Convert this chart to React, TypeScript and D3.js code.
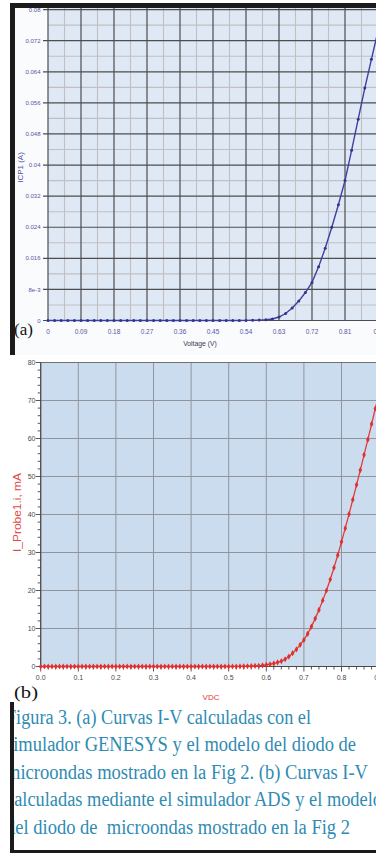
import React from 'react';
import * as d3 from 'd3';

// ---------- (a) GENESYS ----------
const voltsA = [0, 0.018, 0.036, 0.054, 0.072, 0.09, 0.108, 0.126, 0.144, 0.162, 0.18, 0.198, 0.216, 0.234, 0.252, 0.27, 0.288, 0.306, 0.324, 0.342, 0.36, 0.378, 0.396, 0.414, 0.432, 0.45, 0.468, 0.486, 0.504, 0.522, 0.54, 0.558, 0.576, 0.594, 0.612, 0.63, 0.648, 0.666, 0.684, 0.702, 0.72, 0.738, 0.756, 0.774, 0.792, 0.81, 0.828, 0.846, 0.864, 0.882, 0.9];
const currentA = [0, 0, 0, 0, 0, 0, 0, 0, 0, 0, 0, 0, 0, 0, 0, 0, 0, 0, 0, 0, 0, 0, 0, 0, 0, 0, 0, 0, 0, 0.00001, 0.00002, 0.00005, 0.0001, 0.0002, 0.0004, 0.0009, 0.0018, 0.0032, 0.005, 0.0072, 0.0098, 0.0138, 0.0186, 0.024, 0.0298, 0.036, 0.0438, 0.0518, 0.0598, 0.0672, 0.0745];
const xTicksA = [0, 0.09, 0.18, 0.27, 0.36, 0.45, 0.54, 0.63, 0.72, 0.81, 0.9];
const xTickLabelsA = ['0', '0.09', '0.18', '0.27', '0.36', '0.45', '0.54', '0.63', '0.72', '0.81', '0.9'];
const yTicksA = [0, 0.008, 0.016, 0.024, 0.032, 0.04, 0.048, 0.056, 0.064, 0.072, 0.08];
const yTickLabelsA = ['0', '8e-3', '0.016', '0.024', '0.032', '0.04', '0.048', '0.056', '0.064', '0.072', '0.08'];

// ---------- (b) ADS ----------
const voltsB = [0, 0.01, 0.02, 0.03, 0.04, 0.05, 0.06, 0.07, 0.08, 0.09, 0.1, 0.11, 0.12, 0.13, 0.14, 0.15, 0.16, 0.17, 0.18, 0.19, 0.2, 0.21, 0.22, 0.23, 0.24, 0.25, 0.26, 0.27, 0.28, 0.29, 0.3, 0.31, 0.32, 0.33, 0.34, 0.35, 0.36, 0.37, 0.38, 0.39, 0.4, 0.41, 0.42, 0.43, 0.44, 0.45, 0.46, 0.47, 0.48, 0.49, 0.5, 0.51, 0.52, 0.53, 0.54, 0.55, 0.56, 0.57, 0.58, 0.59, 0.6, 0.61, 0.62, 0.63, 0.64, 0.65, 0.66, 0.67, 0.68, 0.69, 0.7, 0.71, 0.72, 0.73, 0.74, 0.75, 0.76, 0.77, 0.78, 0.79, 0.8, 0.81, 0.82, 0.83, 0.84, 0.85, 0.86, 0.87, 0.88, 0.89, 0.9];
const currentB = [0, 0, 0, 0, 0, 0, 0, 0, 0, 0, 0, 0, 0, 0, 0, 0, 0, 0, 0, 0, 0, 0, 0, 0, 0, 0, 0, 0, 0, 0, 0, 0, 0, 0, 0, 0, 0, 0, 0, 0, 0, 0, 0, 0, 0, 0, 0, 0, 0, 0, 0, 0.01, 0.01, 0.02, 0.04, 0.06, 0.1, 0.15, 0.2, 0.3, 0.45, 0.6, 0.8, 1.1, 1.4, 1.9, 2.6, 3.5, 4.5, 5.7, 7.0, 8.6, 10.5, 12.6, 14.9, 17.4, 20.0, 22.9, 26.0, 29.3, 32.8, 36.4, 40.1, 43.9, 47.8, 51.7, 55.7, 59.7, 63.8, 67.9, 72.0];
const xTicksB = [0, 0.1, 0.2, 0.3, 0.4, 0.5, 0.6, 0.7, 0.8, 0.9];
const xTickLabelsB = ['0.0', '0.1', '0.2', '0.3', '0.4', '0.5', '0.6', '0.7', '0.8', '0.9'];
const yTicksB = [0, 10, 20, 30, 40, 50, 60, 70, 80];
const yTickLabelsB = ['0', '10', '20', '30', '40', '50', '60', '70', '80'];

const captionLines = [
  'Figura 3. (a) Curvas I-V calculadas con el',
  'simulador GENESYS y el modelo del diodo de',
  'microondas mostrado en la Fig 2. (b) Curvas I-V',
  'calculadas mediante el simulador ADS y el modelo',
  'del diodo de  microondas mostrado en la Fig 2',
];
const captionWidths = [305, 350, 362, 376, 344];

export default function App() {
  const W = 376, H = 853;
  const sans = 'Liberation Sans, Arial, sans-serif';
  const serif = 'Liberation Serif, Times New Roman, serif';

  // (a) scales
  const xA = d3.scaleLinear().domain([0, 0.9]).range([48, 378]);
  const yA = d3.scaleLinear().domain([0, 0.08]).range([320.5, 9.6]);
  const minorXA = d3.range(0, 10).map(i => xTicksA[i] + 0.045);
  const minorYA = d3.range(0, 10).map(i => yTicksA[i] + 0.004);
  const lineA = d3.line<number>().x((d, i) => xA(voltsA[i])).y(d => yA(d));

  // (b) scales
  const xB = d3.scaleLinear().domain([0, 0.9]).range([40.7, 379.1]);
  const yB = d3.scaleLinear().domain([0, 80]).range([666.5, 362.5]);
  const lineB = d3.line<number>().x((d, i) => xB(voltsB[i])).y(d => yB(d));
  const minorYB = d3.range(0, 81, 2);
  const minorXB = d3.range(0, 46).map(i => i * 0.02);
  const diamond = d3.symbol().type(d3.symbolDiamond).size(11)() as string;

  const topA = 8, botA = yA(0);
  const topB = yB(80), botB = yB(0);

  return (
    <svg width={W} height={H} viewBox={`0 0 ${W} ${H}`}
      style={{ position: 'absolute', left: 0, top: 0, background: '#ffffff' }}>
      <defs>
        <clipPath id="capClip">
          <rect x={14} y={700} width={W - 14} height={150} />
        </clipPath>
      </defs>
      {/* ===== (a) ===== */}
      <rect x={15} y={8} width={W - 15} height={347} fill="#fafbfd" />
      <rect x={48} y={topA} width={W - 48} height={botA - topA} fill="#dfe9f5" />
      {minorXA.map((v, i) => (
        <line key={'mxa' + i} x1={xA(v)} x2={xA(v)} y1={topA} y2={botA} stroke="#c2bfc2" strokeWidth={1.1} />
      ))}
      {minorYA.map((v, i) => (
        <line key={'mya' + i} x1={48} x2={W} y1={yA(v)} y2={yA(v)} stroke="#c2bfc2" strokeWidth={1.1} />
      ))}
      {xTicksA.map((v, i) => (
        <line key={'gxa' + i} x1={xA(v)} x2={xA(v)} y1={topA} y2={botA} stroke="#4d4d4f" strokeWidth={1.2} />
      ))}
      {yTicksA.map((v, i) => (
        <line key={'gya' + i} x1={43} x2={W} y1={yA(v)} y2={yA(v)} stroke="#4d4d4f" strokeWidth={1.2} />
      ))}
      {yTicksA.map((v, i) => (
        <text key={'tya' + i} x={40.5} y={yA(v)} dy="0.35em" textAnchor="end" fontSize={6} fontFamily={sans} fill="#5656a6">
          {yTickLabelsA[i]}
        </text>
      ))}
      {xTicksA.map((v, i) => (
        <text key={'txa' + i} x={xA(v)} y={333.5} textAnchor="middle" fontSize={6.5} fontFamily={sans} fill="#5656a6">
          {xTickLabelsA[i]}
        </text>
      ))}
      <text x={200} y={345.5} textAnchor="middle" fontSize={6.8} fontFamily={sans} fill="#3a3a55">Voltage (V)</text>
      <text transform="translate(22.5,167.5) rotate(-90)" textAnchor="middle" fontSize={8} fontFamily={sans} fill="#5252a6">ICP1 (A)</text>
      <path d={lineA(currentA) || ''} fill="none" stroke="#3f3f9e" strokeWidth={1.4} />
      {currentA.map((c, i) => (
        <circle key={'pa' + i} cx={xA(voltsA[i])} cy={yA(c)} r={1.5} fill="#34348f" />
      ))}
      <text x={14} y={335} fontSize={17} fontFamily={serif} fill="#111">(a)</text>
      <rect x={10} y={3} width={W - 10} height={5} fill="#1b1b1b" />
      <rect x={10} y={3} width={5} height={352} fill="#1b1b1b" />

      {/* ===== (b) ===== */}
      <rect x={41} y={topB} width={W - 41} height={botB - topB} fill="#cbdcef" />
      {xTicksB.map((v, i) => (
        <line key={'gxb' + i} x1={xB(v)} x2={xB(v)} y1={topB} y2={botB} stroke="#8f959b" strokeWidth={1} />
      ))}
      {yTicksB.map((v, i) => (
        <line key={'gyb' + i} x1={xB(0)} x2={W} y1={yB(v)} y2={yB(v)} stroke="#8f959b" strokeWidth={1} />
      ))}
      <line x1={xB(0)} x2={W} y1={topB} y2={topB} stroke="#6d7278" strokeWidth={1.2} />
      <line x1={xB(0)} x2={xB(0)} y1={topB} y2={botB} stroke="#4a4a4a" strokeWidth={1.2} />
      <line x1={xB(0)} x2={W} y1={botB} y2={botB} stroke="#4a4a4a" strokeWidth={1.2} />
      {minorYB.map((v, i) => (
        <line key={'myb' + i} x1={xB(0) - (v % 10 === 0 ? 5 : 3)} x2={xB(0)} y1={yB(v)} y2={yB(v)} stroke="#444" strokeWidth={0.9} />
      ))}
      {minorXB.map((v, i) => (
        <line key={'mxb' + i} x1={xB(v)} x2={xB(v)} y1={botB} y2={botB + (i % 5 === 0 ? 5 : 3)} stroke="#444" strokeWidth={0.9} />
      ))}
      {yTicksB.map((v, i) => (
        <text key={'tyb' + i} x={35.5} y={yB(v)} dy="0.35em" textAnchor="end" fontSize={7} fontFamily={sans} fill="#4a4a4a">
          {yTickLabelsB[i]}
        </text>
      ))}
      {xTicksB.map((v, i) => (
        <text key={'txb' + i} x={xB(v)} y={680} textAnchor="middle" fontSize={7} fontFamily={sans} fill="#4a4a4a">
          {xTickLabelsB[i]}
        </text>
      ))}
      <text x={211} y={699.5} textAnchor="middle" fontSize={8} fontFamily={sans} fill="#e03a3a">VDC</text>
      <text transform="translate(20.5,512.5) rotate(-90)" textAnchor="middle" fontSize={11} textLength={79} lengthAdjust="spacingAndGlyphs" fontFamily={sans} fill="#e24848">I_Probe1.i, mA</text>
      <path d={lineB(currentB) || ''} fill="none" stroke="#e23a3a" strokeWidth={1.3} />
      {currentB.map((c, i) => (
        <path key={'pb' + i} d={diamond} transform={`translate(${xB(voltsB[i])},${yB(c)})`} fill="#e0302e" />
      ))}
      <text x={14} y={698} fontSize={17} fontFamily={serif} fill="#111" textLength={24} lengthAdjust="spacingAndGlyphs">(b)</text>

      {/* ===== caption ===== */}
      <rect x={10} y={702} width={W - 10} height={151} fill="#ffffff" />
      <g clipPath="url(#capClip)">
        {captionLines.map((t, i) => (
          <text key={'cap' + i} x={6} y={723.5 + i * 27.5} fontSize={20} fontFamily={serif} fill="#2f8bb2"
            textLength={captionWidths[i]} lengthAdjust="spacingAndGlyphs" style={{ whiteSpace: 'pre' }}>
            {t}
          </text>
        ))}
      </g>
      <rect x={10} y={702} width={4} height={151} fill="#1b1b1b" />
      <rect x={10} y={850} width={W - 10} height={3} fill="#1b1b1b" />
    </svg>
  );
}
